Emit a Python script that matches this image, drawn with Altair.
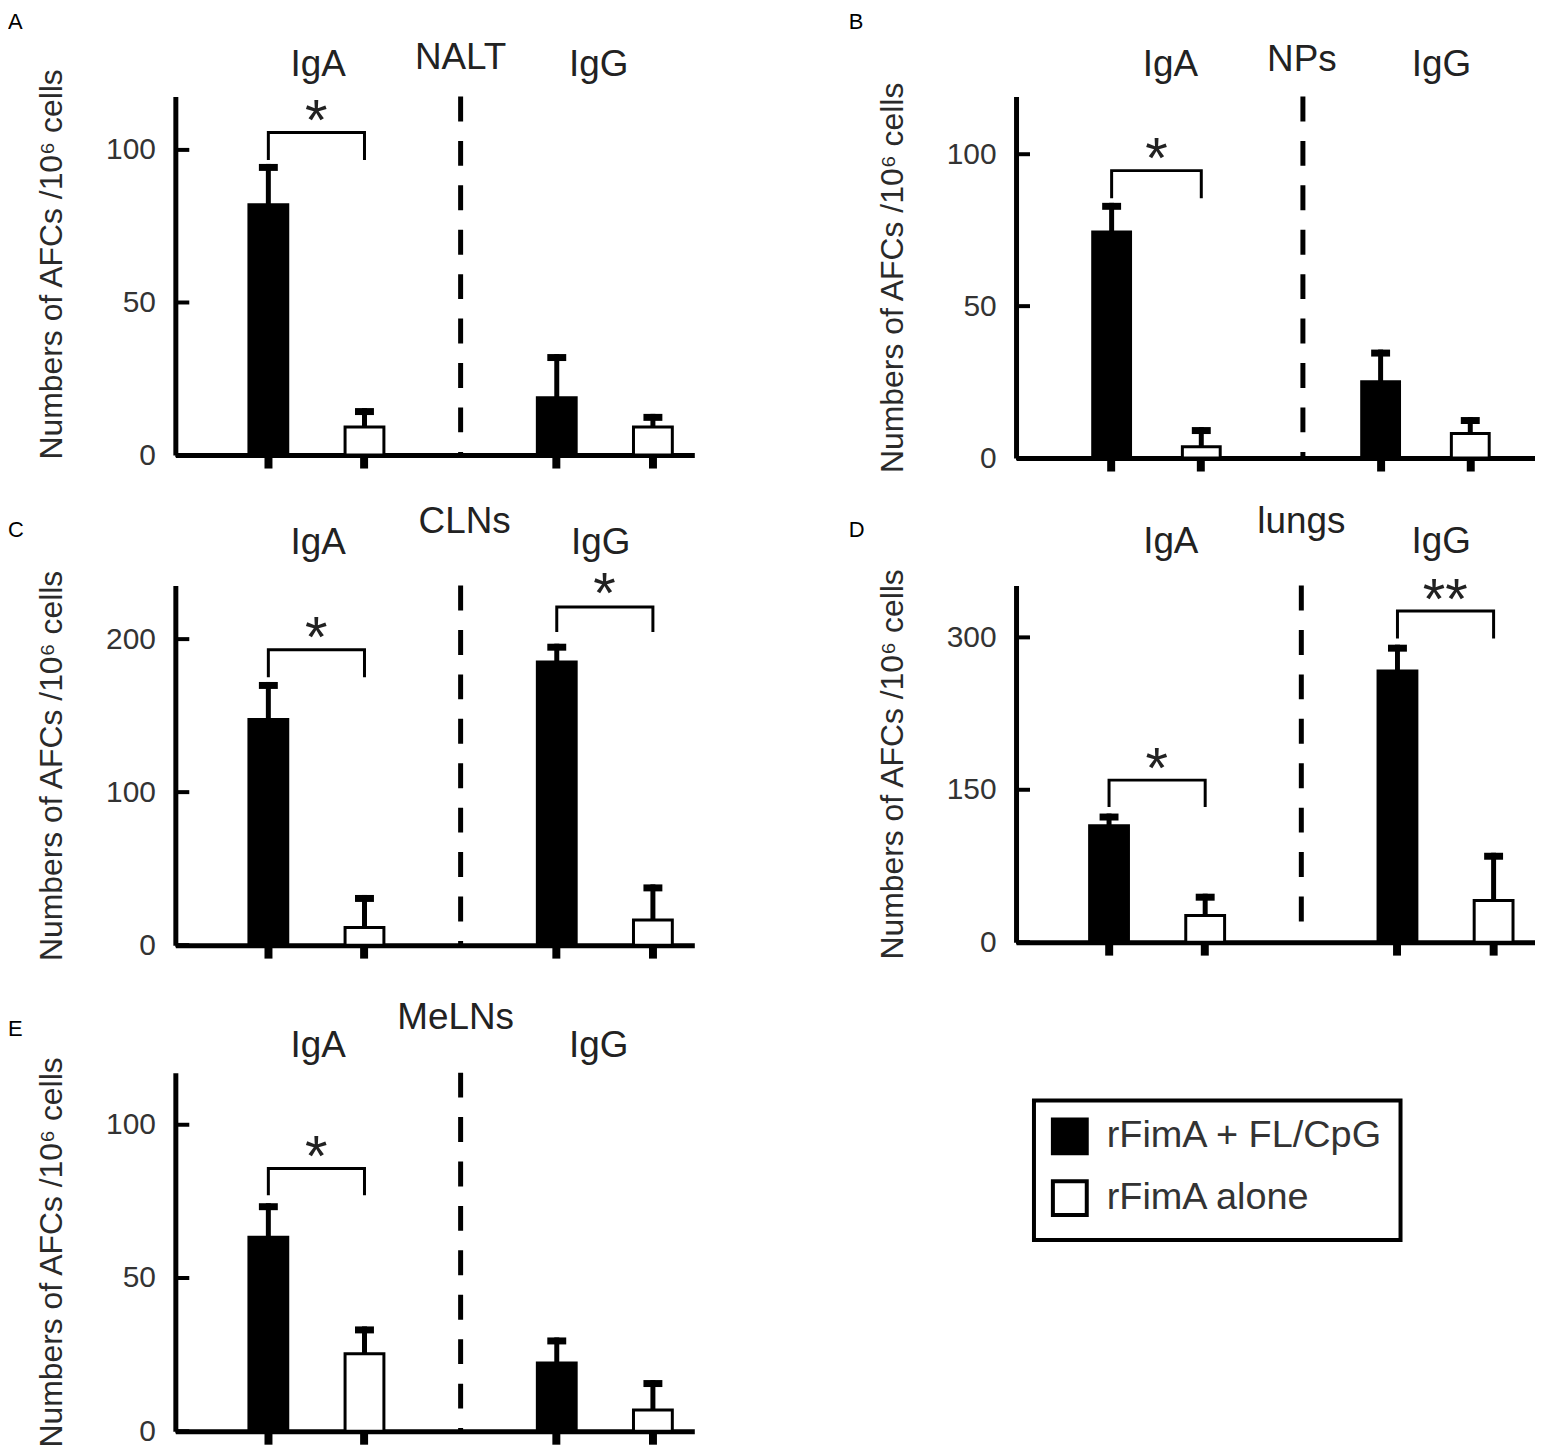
import altair as alt
import pandas as pd

FONT = "Liberation Sans"
TEXT_COLOR = "#222222"

# ---------------- data ----------------
SLOTS = ["IgA_combo", "IgA_alone", "divider", "IgG_combo", "IgG_alone"]
BAR_SLOTS = ["IgA_combo", "IgA_alone", "IgG_combo", "IgG_alone"]
GROUPS = ["rFimA + FL/CpG", "rFimA alone"]
BAR_GROUPS = ["rFimA + FL/CpG", "rFimA alone", "rFimA + FL/CpG", "rFimA alone"]
GROUP_FILLS = ["#000000", "#ffffff"]
Y_TITLE = "Numbers of AFCs /10⁶ cells"

# A: NALT
NALT_MEAN = [82.0, 9.2, 18.8, 9.2]
NALT_UPPER = [95.4, 15.4, 33.1, 13.5]
NALT_TICKS = [0, 50, 100]
NALT_MAX = 117.5
# B: NPs
NPS_MEAN = [74.4, 3.7, 25.1, 8.1]
NPS_UPPER = [84.0, 10.2, 35.7, 13.5]
NPS_TICKS = [0, 50, 100]
NPS_MAX = 119.0
# C: CLNs
CLNS_MEAN = [147.4, 11.6, 185.0, 16.4]
CLNS_UPPER = [172.0, 32.8, 197.0, 39.7]
CLNS_TICKS = [0, 100, 200]
CLNS_MAX = 235.0
# D: lungs
LUNGS_MEAN = [114.5, 26.3, 267.0, 41.0]
LUNGS_UPPER = [126.6, 47.7, 292.8, 88.0]
LUNGS_TICKS = [0, 150, 300]
LUNGS_MAX = 351.0
# E: MeLNs
MELNS_MEAN = [63.3, 25.3, 22.3, 6.9]
MELNS_UPPER = [74.4, 34.2, 30.6, 16.7]
MELNS_TICKS = [0, 50, 100]
MELNS_MAX = 117.0

# significance brackets: (left slot, right slot, bracket top, left leg end, right leg end, stars, star centre)
NALT_SIG = [("IgA_combo", "IgA_alone", 105.7, 96.7, 96.7, "*", 114.0)]
NPS_SIG = [("IgA_combo", "IgA_alone", 94.6, 85.5, 85.5, "*", 102.9)]
CLNS_SIG = [("IgA_combo", "IgA_alone", 193.0, 175.0, 175.0, "*", 210.0),
            ("IgG_combo", "IgG_alone", 221.0, 204.6, 204.6, "*", 238.6)]
LUNGS_SIG = [("IgA_combo", "IgA_alone", 159.5, 133.0, 133.0, "*", 184.0),
             ("IgG_combo", "IgG_alone", 326.0, 299.0, 299.0, "**", 350.0)]
MELNS_SIG = [("IgA_combo", "IgA_alone", 85.7, 77.0, 77.0, "*", 94.0)]

# ---------------- layout (styling only) ----------------
W = 521
STD = dict(pi=0.596, po=0.497, align=0.77, half=48, div_off=0)
NPS_LAYOUT = dict(pi=0.578, po=0.683, align=0.626, half=45, div_off=12)


def panel(letter, region, mean, upper, yticks, ymax, height, sig, lay,
          head_y, region_y, letter_y, dx_iga, dx_region, dx_igg,
          legend=None, title_y=None):
    xscale = alt.Scale(type="band", domain=SLOTS, paddingInner=lay["pi"],
                       paddingOuter=lay["po"], align=lay["align"])
    xaxis = alt.Axis(values=BAR_SLOTS, labels=False, title=None, grid=False,
                     domainWidth=5, domainColor="black", tickSize=13,
                     tickWidth=8, tickColor="black")
    yscale = alt.Scale(domain=[0, ymax], nice=False, zero=True)
    yaxis_kw = dict(values=yticks, ticks=False, tickSize=0, grid=False,
                    domainWidth=5, domainColor="black", labelFont=FONT,
                    labelFontSize=30, labelColor="#333333", labelPadding=20,
                    title=Y_TITLE, titleFont=FONT, titleFontSize=32,
                    titleFontWeight="normal", titleColor="#2a2a2a",
                    titlePadding=37)
    if title_y is not None:
        yaxis_kw["titleY"] = title_y
    yaxis = alt.Axis(**yaxis_kw)

    def X():
        return alt.X("slot:N", scale=xscale, axis=xaxis)

    def Y(field):
        return alt.Y(field + ":Q", scale=yscale, axis=yaxis)

    bars_df = pd.DataFrame({"slot": BAR_SLOTS, "group": BAR_GROUPS,
                            "mean": mean, "upper": upper})
    fill = alt.Fill("group:N", scale=alt.Scale(domain=GROUPS, range=GROUP_FILLS),
                    legend=legend)
    bars = alt.Chart(bars_df).mark_bar(stroke="black", strokeWidth=3).encode(
        x=X(), y=Y("mean"), fill=fill)
    stems = alt.Chart(bars_df).mark_rule(color="black", strokeWidth=5).encode(
        x=X(), y=Y("mean"), y2="upper:Q")
    caps = alt.Chart(bars_df).mark_tick(color="black", thickness=7, size=19,
                                        yOffset=3.5, opacity=1).encode(
        x=X(), y=Y("upper"))

    div_df = pd.DataFrame({"slot": ["divider"]})
    divider = alt.Chart(div_df).mark_rule(
        color="black", strokeWidth=5, strokeDash=[25, 19.6],
        xOffset=lay["div_off"]).encode(
        x=X(), y=alt.value(0), y2=alt.value(height))

    tick_df = pd.DataFrame({"v": yticks})
    yt = alt.Chart(tick_df).mark_rule(color="black", strokeWidth=4).encode(
        y=Y("v"), x=alt.value(0), x2=alt.value(14))

    rows = []
    stars = []
    for i, (l, r, top, legl, legr, s, sy) in enumerate(sig):
        rows += [
            {"id": i, "ord": 0, "slot": l, "yv": legl},
            {"id": i, "ord": 1, "slot": l, "yv": top},
            {"id": i, "ord": 2, "slot": r, "yv": top},
            {"id": i, "ord": 3, "slot": r, "yv": legr},
        ]
        stars.append({"slot": l, "yv": sy, "t": s})
    br = alt.Chart(pd.DataFrame(rows)).mark_line(
        color="black", strokeWidth=3, strokeJoin="miter").encode(
        x=X(), y=Y("yv"), detail="id:N", order="ord:Q")
    st = alt.Chart(pd.DataFrame(stars)).mark_text(
        font=FONT, fontSize=58, color=TEXT_COLOR, baseline="alphabetic",
        align="center", dx=lay["half"], dy=33).encode(
        x=X(), y=Y("yv"), text="t:N")

    def heading(slot, txt, dx, yy):
        return alt.Chart(pd.DataFrame({"slot": [slot], "t": [txt]})).mark_text(
            font=FONT, fontSize=37, color=TEXT_COLOR, baseline="alphabetic",
            align="center", dx=dx).encode(x=X(), y=alt.value(yy), text="t:N")

    h1 = heading("IgA_combo", "IgA", dx_iga, head_y)
    h2 = heading("divider", region, dx_region, region_y)
    h3 = heading("IgG_combo", "IgG", dx_igg, head_y)

    let = alt.Chart(pd.DataFrame({"t": [letter]})).mark_text(
        font=FONT, fontSize=22, color="black", align="left",
        baseline="middle").encode(x=alt.value(-168), y=alt.value(letter_y),
                                  text="t:N")

    return alt.layer(bars, stems, caps, divider, yt, br, st, h1, h2, h3,
                     let).properties(width=W, height=height)


legend_e = alt.Legend(
    orient="none", legendX=862, legendY=28, title=None, direction="vertical",
    symbolType="square", symbolSize=1156, symbolStrokeColor="black",
    symbolStrokeWidth=4, labelFont=FONT, labelFontSize=38,
    labelColor="#333333", labelLimit=600, labelOffset=18, rowPadding=12,
    padding=17, strokeColor="black")

pA = panel("A", "NALT", NALT_MEAN, NALT_UPPER, NALT_TICKS, NALT_MAX, 360,
           NALT_SIG, STD, -21, -28, -75, 50, 0, 42, title_y=168)
pB = panel("B", "NPs", NPS_MEAN, NPS_UPPER, NPS_TICKS, NPS_MAX, 363,
           NPS_SIG, NPS_LAYOUT, -21, -26, -75, 59, 11, 61)
pC = panel("C", "CLNs", CLNS_MEAN, CLNS_UPPER, CLNS_TICKS, CLNS_MAX, 361,
           CLNS_SIG, STD, -32, -53, -56, 50, 4, 44)
pD = panel("D", "lungs", LUNGS_MEAN, LUNGS_UPPER, LUNGS_TICKS, LUNGS_MAX, 358,
           LUNGS_SIG, STD, -33, -53, -56, 62, 0, 44)
pE = panel("E", "MeLNs", MELNS_MEAN, MELNS_UPPER, MELNS_TICKS, MELNS_MAX, 360,
           MELNS_SIG, STD, -16, -44, -44, 50, -5, 42, legend=legend_e)

chart = (
    alt.concat(pA, pB, pC, pD, pE, columns=2,
               spacing={"row": 128, "column": 323}, bounds="flush")
    .resolve_scale(fill="independent")
    .properties(padding=0)
    .configure_view(strokeWidth=0)
    .configure_legend(strokeWidth=4)
)

chart.save("out.html", embed_options={"renderer": "svg", "actions": False})
